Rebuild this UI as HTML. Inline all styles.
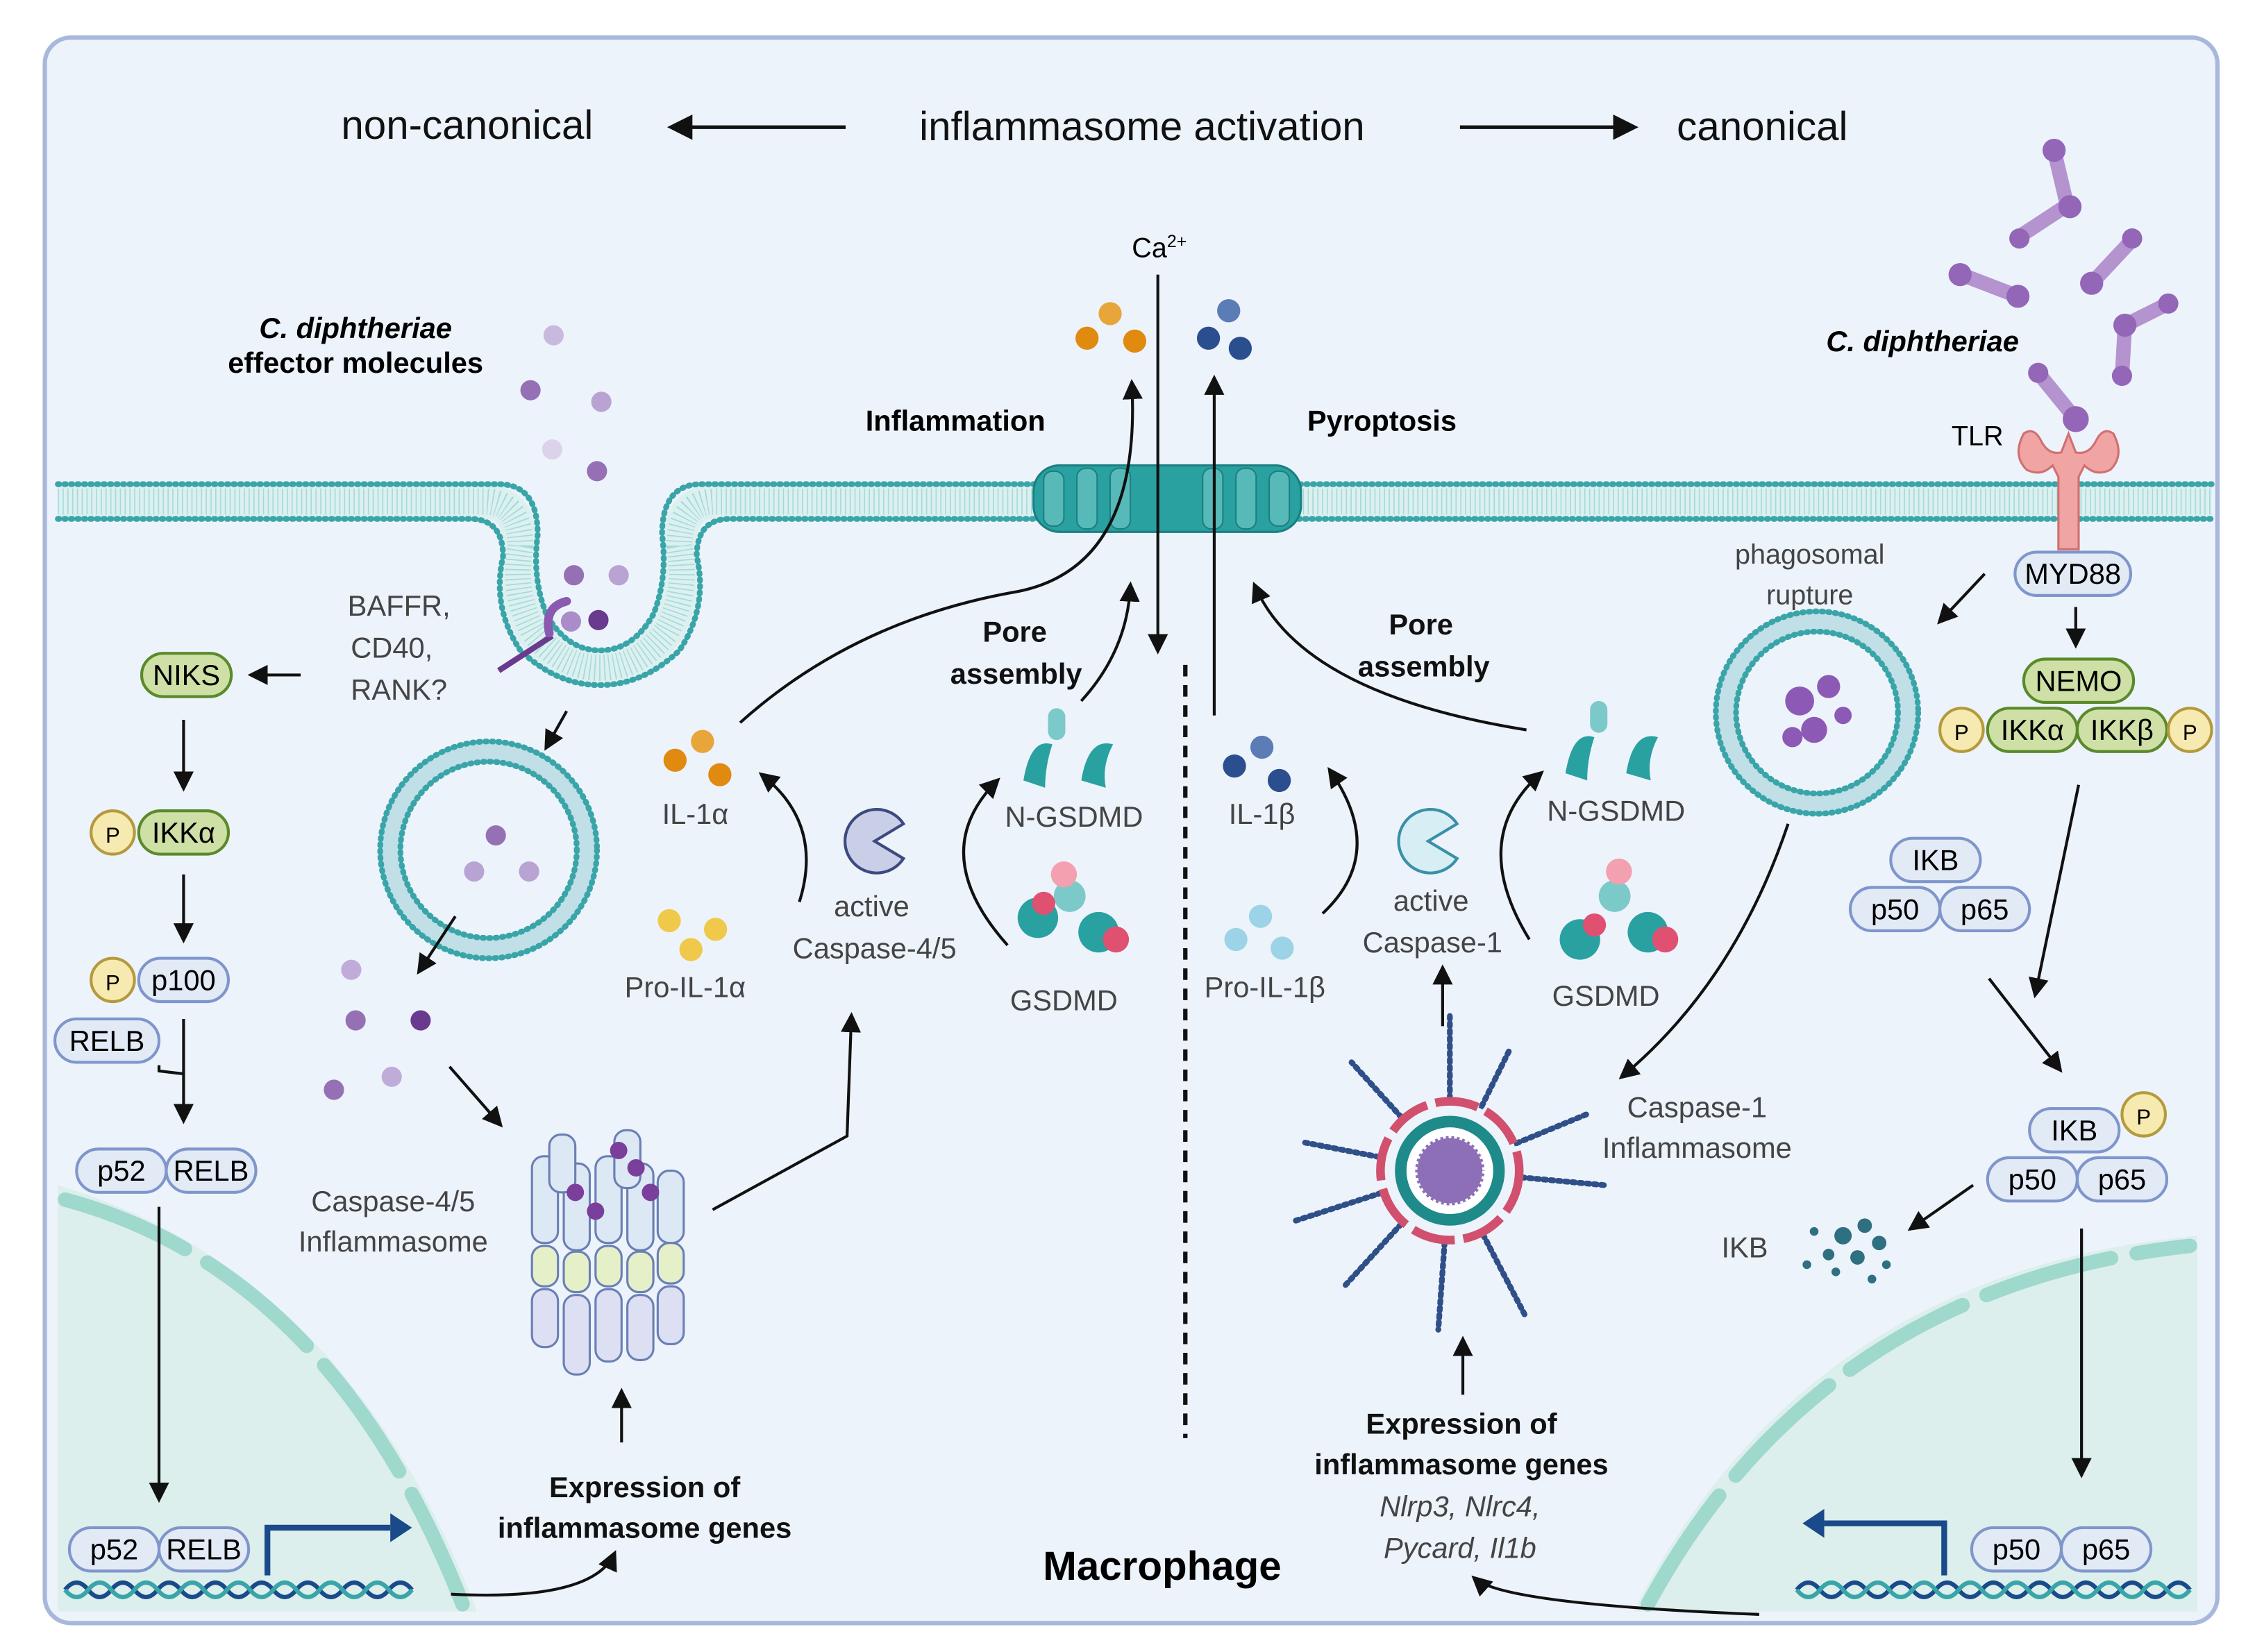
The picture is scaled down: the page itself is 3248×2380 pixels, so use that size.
<!DOCTYPE html>
<html><head><meta charset="utf-8"><style>
html,body{margin:0;padding:0;background:#fff;}
svg{display:block;}
text{font-family:"Liberation Sans",sans-serif;}
</style></head><body>
<svg width="3248" height="2380" viewBox="0 0 1560 1143" preserveAspectRatio="none" xmlns="http://www.w3.org/2000/svg">
<defs>
<marker id="ah" viewBox="0 0 10 10" refX="8" refY="5" markerWidth="7" markerHeight="7" orient="auto-start-reverse"><path d="M0,0L10,5L0,10z" fill="#111"/></marker>
</defs>
<rect x="31" y="26" width="1503" height="1097" rx="18" fill="#edf3fb" stroke="#a8b8dc" stroke-width="3"/>
<!-- nucleus regions -->
<path d="M40,820 Q240,880 330,1115 L40,1115z" fill="#dcefec"/>
<path d="M1130,1115 Q1250,880 1520,855 L1520,1115z" fill="#dcefec"/>
<path d="M45,830 Q230,880 320,1110" fill="none" stroke="#9fd8cc" stroke-width="10" stroke-dasharray="90 18" stroke-linecap="round"/>
<path d="M1140,1110 Q1260,890 1515,862" fill="none" stroke="#9fd8cc" stroke-width="10" stroke-dasharray="90 18" stroke-linecap="round"/>
<!-- membrane -->
<path d="M40,347 H335 Q360,347 360,378 Q354,410 369,437 Q388,462 415,462 Q442,462 461,437 Q476,410 470,378 Q470,347 495,347 H1530" fill="none" stroke="#dcf0f0" stroke-width="24"/>
<path d="M40,347 H335 Q360,347 360,378 Q354,410 369,437 Q388,462 415,462 Q442,462 461,437 Q476,410 470,378 Q470,347 495,347 H1530" fill="none" stroke="#a6dada" stroke-width="18" stroke-dasharray="0.8 2.5"/>
<g stroke="#3aa5a8" stroke-width="4" stroke-dasharray="1 3.5" stroke-linecap="round" fill="none">
<path d="M40,335 H345 Q372,335 372,370 Q368,400 378,425 Q392,450 415,450 Q438,450 452,425 Q462,400 458,370 Q458,335 485,335 H1530"/>
<path d="M40,359 H325 Q348,359 348,385 Q340,420 360,450 Q385,474 415,474 Q445,474 470,450 Q490,420 482,385 Q482,359 505,359 H1530"/>
</g>
<!-- pore -->
<g stroke="#1b7f82" stroke-width="1.5">
<rect x="715" y="322" width="185" height="46" rx="18" fill="#2aa1a1"/>
</g>
<g fill="#58b9b9" stroke="#1b7f82" stroke-width="1"><rect x="722" y="326" width="14" height="38" rx="6"/><rect x="745" y="324" width="14" height="42" rx="6"/><rect x="768" y="324" width="14" height="42" rx="6"/><rect x="832" y="324" width="14" height="42" rx="6"/><rect x="855" y="324" width="14" height="42" rx="6"/><rect x="878" y="326" width="14" height="38" rx="6"/></g>
<!-- header -->
<text x="236" y="96" font-size="28" fill="#111">non-canonical</text>
<text x="636" y="97" font-size="28" fill="#111">inflammasome activation</text>
<text x="1160" y="97" font-size="28" fill="#111">canonical</text>
<line x1="585" y1="88" x2="465" y2="88" stroke="#111" stroke-width="2.5" marker-end="url(#ah)"/>
<line x1="1010" y1="88" x2="1130" y2="88" stroke="#111" stroke-width="2.5" marker-end="url(#ah)"/>
<text x="246" y="234" font-size="20" font-weight="bold" font-style="italic" text-anchor="middle">C. diphtheriae</text>
<text x="246" y="258" font-size="20" font-weight="bold" text-anchor="middle">effector molecules</text>
<text x="1330" y="243" font-size="20" font-weight="bold" font-style="italic" text-anchor="middle">C. diphtheriae</text>
<text x="661" y="298" font-size="20" font-weight="bold" text-anchor="middle">Inflammation</text>
<text x="956" y="298" font-size="20" font-weight="bold" text-anchor="middle">Pyroptosis</text>
<text x="802" y="178" font-size="19" text-anchor="middle">Ca<tspan font-size="12" dy="-7">2+</tspan></text>
<!-- ca arrows -->
<line x1="801" y1="190" x2="801" y2="450" stroke="#111" stroke-width="2" marker-end="url(#ah)"/>
<line x1="840" y1="495" x2="840" y2="262" stroke="#111" stroke-width="2" marker-end="url(#ah)"/>
<path d="M512,500 Q590,430 700,410 Q790,395 783,265" fill="none" stroke="#111" stroke-width="2" marker-end="url(#ah)"/>
<line x1="820" y1="460" x2="820" y2="995" stroke="#111" stroke-width="3" stroke-dasharray="8 6"/>
<!-- cytokine balls -->
<g fill="#e08a10"><circle cx="752" cy="234" r="8"/><circle cx="785" cy="236" r="8"/><circle cx="768" cy="217" r="8" fill="#e8a53a"/>
<circle cx="467" cy="526" r="8"/><circle cx="498" cy="536" r="8"/><circle cx="486" cy="513" r="8" fill="#e8a53a"/></g>
<g fill="#f0c84a"><circle cx="463" cy="637" r="8"/><circle cx="495" cy="643" r="8"/><circle cx="478" cy="657" r="8"/></g>
<g fill="#2b4f8e"><circle cx="836" cy="234" r="8"/><circle cx="858" cy="241" r="8"/><circle cx="850" cy="215" r="8" fill="#5b7cb5"/>
<circle cx="854" cy="530" r="8"/><circle cx="885" cy="540" r="8"/><circle cx="873" cy="517" r="8" fill="#5b7cb5"/></g>
<g fill="#9cd3e6"><circle cx="855" cy="650" r="8"/><circle cx="887" cy="656" r="8"/><circle cx="872" cy="634" r="8"/></g>
<!-- effector dots -->
<g fill="#9670b5"><circle cx="383" cy="232" r="7" fill="#c9b9de"/><circle cx="367" cy="270" r="7"/><circle cx="416" cy="278" r="7" fill="#b8a3d3"/><circle cx="382" cy="311" r="7" fill="#dcd3ea"/><circle cx="413" cy="326" r="7"/>
<circle cx="397" cy="398" r="7"/><circle cx="428" cy="398" r="7" fill="#b8a3d3"/><circle cx="395" cy="430" r="7" fill="#a98cc8"/><circle cx="414" cy="429" r="7" fill="#6a3a8f"/>
<circle cx="343" cy="578" r="7"/><circle cx="328" cy="603" r="7" fill="#b8a3d3"/><circle cx="366" cy="603" r="7" fill="#b8a3d3"/>
<circle cx="243" cy="671" r="7" fill="#c0acd8"/><circle cx="246" cy="706" r="7"/><circle cx="291" cy="706" r="7" fill="#6a3a8f"/><circle cx="231" cy="754" r="7"/><circle cx="271" cy="745" r="7" fill="#c0acd8"/></g>
<line x1="345" y1="464" x2="382" y2="440" stroke="#6a3a8f" stroke-width="4"/>
<path d="M380,438 Q376,420 392,416" fill="none" stroke="#8a5ab0" stroke-width="6" stroke-linecap="round"/>
<!-- endosome -->
<circle cx="338" cy="588" r="68" fill="none" stroke="#3aa5a8" stroke-width="14" opacity="0.25"/>
<circle cx="338" cy="588" r="75" fill="none" stroke="#3aa5a8" stroke-width="4" stroke-dasharray="1 3.5" stroke-linecap="round"/>
<circle cx="338" cy="588" r="61" fill="none" stroke="#3aa5a8" stroke-width="4" stroke-dasharray="1 3.5" stroke-linecap="round"/>
<!-- phagosome -->
<circle cx="1257" cy="493" r="63" fill="none" stroke="#3aa5a8" stroke-width="14" opacity="0.25"/>
<circle cx="1257" cy="493" r="70" fill="none" stroke="#3aa5a8" stroke-width="4" stroke-dasharray="1 3.5" stroke-linecap="round"/>
<circle cx="1257" cy="493" r="56" fill="none" stroke="#3aa5a8" stroke-width="4" stroke-dasharray="1 3.5" stroke-linecap="round"/>
<g fill="#8c5ab5"><circle cx="1245" cy="485" r="10"/><circle cx="1265" cy="475" r="8"/><circle cx="1255" cy="505" r="9"/><circle cx="1275" cy="495" r="6"/><circle cx="1240" cy="510" r="7"/></g>
<!-- bacteria -->
<g stroke="#b493cf" stroke-width="10" stroke-linecap="round" fill="none">
<path d="M1421,104 L1430,142 L1398,163"/><path d="M1357,190 L1396,205"/><path d="M1475,166 L1447,196"/><path d="M1500,210 L1470,225 L1468,260"/><path d="M1410,258 L1436,290"/></g>
<g fill="#9366b8"><circle cx="1421" cy="104" r="8"/><circle cx="1432" cy="143" r="8"/><circle cx="1397" cy="165" r="7"/><circle cx="1356" cy="190" r="8"/><circle cx="1396" cy="205" r="8"/><circle cx="1475" cy="165" r="7"/><circle cx="1447" cy="196" r="8"/><circle cx="1500" cy="210" r="7"/><circle cx="1470" cy="225" r="8"/><circle cx="1468" cy="260" r="7"/><circle cx="1410" cy="258" r="7"/><circle cx="1436" cy="290" r="9"/></g>
<!-- TLR -->
<path d="M1400,300 Q1392,315 1402,325 Q1412,330 1420,322 L1424,330 V380 H1438 V330 L1442,322 Q1450,330 1460,325 Q1470,315 1462,300 Q1455,295 1450,305 Q1445,315 1436,313 L1431,300 L1426,313 Q1417,315 1412,305 Q1407,295 1400,300z" fill="#f0a4a4" stroke="#d07070" stroke-width="1.5"/>
<text x="1368" y="308" font-size="19" text-anchor="middle">TLR</text>
<text x="1252" y="390" font-size="19" fill="#444" text-anchor="middle">phagosomal</text>
<text x="1252" y="418" font-size="19" fill="#444" text-anchor="middle">rupture</text>
<!-- pills -->
<g font-size="20" text-anchor="middle">
<g fill="#e2eaf6" stroke="#7f96cc" stroke-width="2">
<rect x="1394" y="382" width="80" height="30" rx="15"/>
<rect x="1308" y="580" width="62" height="30" rx="15"/>
<rect x="1280" y="614" width="62" height="30" rx="15"/><rect x="1342" y="614" width="62" height="30" rx="15"/>
<rect x="1404" y="767" width="62" height="30" rx="15"/>
<rect x="1375" y="801" width="62" height="30" rx="15"/><rect x="1437" y="801" width="62" height="30" rx="15"/>
<rect x="1364" y="1057" width="62" height="30" rx="15"/><rect x="1426" y="1057" width="62" height="30" rx="15"/>
<rect x="38" y="705" width="72" height="30" rx="15"/>
<rect x="53" y="795" width="62" height="30" rx="15"/><rect x="115" y="795" width="62" height="30" rx="15"/>
<rect x="48" y="1057" width="62" height="30" rx="15"/><rect x="110" y="1057" width="62" height="30" rx="15"/>
<rect x="96" y="663" width="62" height="30" rx="15"/>
</g>
<g fill="#cfe0a6" stroke="#5a8a2b" stroke-width="2">
<rect x="1400" y="456" width="76" height="30" rx="15"/>
<rect x="1375" y="490" width="62" height="30" rx="15"/><rect x="1437" y="490" width="62" height="30" rx="15"/>
<rect x="98" y="452" width="62" height="30" rx="15"/>
<rect x="96" y="561" width="62" height="30" rx="15"/>
</g>
<g fill="#f7eab0" stroke="#b49a3c" stroke-width="2">
<circle cx="1357" cy="505" r="15"/><circle cx="1515" cy="505" r="15"/><circle cx="1483" cy="771" r="15"/>
<circle cx="78" cy="576" r="15"/><circle cx="78" cy="678" r="15"/>
</g>
<text x="1434" y="404">MYD88</text><text x="1438" y="478">NEMO</text>
<text x="1406" y="512">IKKα</text><text x="1468" y="512">IKKβ</text>
<text x="1357" y="512" font-size="15">P</text><text x="1515" y="512" font-size="15">P</text><text x="1483" y="778" font-size="15">P</text>
<text x="1339" y="602">IKB</text><text x="1311" y="636">p50</text><text x="1373" y="636">p65</text>
<text x="1435" y="789">IKB</text><text x="1406" y="823">p50</text><text x="1468" y="823">p65</text>
<text x="1395" y="1079">p50</text><text x="1457" y="1079">p65</text>
<text x="129" y="474">NIKS</text><text x="127" y="583">IKKα</text><text x="127" y="685">p100</text>
<text x="78" y="583" font-size="15">P</text><text x="78" y="685" font-size="15">P</text>
<text x="74" y="727">RELB</text><text x="84" y="817">p52</text><text x="146" y="817">RELB</text>
<text x="79" y="1079">p52</text><text x="141" y="1079">RELB</text>
</g>
<!-- DNA -->
<g fill="none" stroke-width="3">
<path d="M45,1100 q8,-10 16,0 t16,0 t16,0 t16,0 t16,0 t16,0 t16,0 t16,0 t16,0 t16,0 t16,0 t16,0 t16,0 t16,0 t16,0" stroke="#1a4a8a"/>
<path d="M45,1100 q8,10 16,0 t16,0 t16,0 t16,0 t16,0 t16,0 t16,0 t16,0 t16,0 t16,0 t16,0 t16,0 t16,0 t16,0 t16,0" stroke="#3aa5a8"/>
<path d="M1243,1100 q8,-10 16,0 t16,0 t16,0 t16,0 t16,0 t16,0 t16,0 t16,0 t16,0 t16,0 t16,0 t16,0 t16,0 t16,0 t16,0 t16,0 t16,0" stroke="#1a4a8a"/>
<path d="M1243,1100 q8,10 16,0 t16,0 t16,0 t16,0 t16,0 t16,0 t16,0 t16,0 t16,0 t16,0 t16,0 t16,0 t16,0 t16,0 t16,0 t16,0 t16,0" stroke="#3aa5a8"/>
<path d="M185,1090 V1057 H270" stroke="#1a4a8a" stroke-width="4"/>
<path d="M1345,1090 V1054 H1262" stroke="#1a4a8a" stroke-width="4"/>
</g>
<path d="M270,1047 L285,1057 L270,1067z" fill="#1a4a8a"/><path d="M1262,1044 L1247,1054 L1262,1064z" fill="#1a4a8a"/>
<!-- arrows -->
<g stroke="#111" stroke-width="2" fill="none" marker-end="url(#ah)">
<line x1="208" y1="467" x2="174" y2="467"/>
<line x1="127" y1="498" x2="127" y2="545"/>
<line x1="127" y1="605" x2="127" y2="650"/>
<line x1="127" y1="705" x2="127" y2="775"/>
<line x1="110" y1="835" x2="110" y2="1037"/>
<line x1="392" y1="492" x2="378" y2="517"/>
<line x1="315" y1="634" x2="290" y2="672"/>
<line x1="311" y1="738" x2="346" y2="778"/>
<line x1="430" y1="998" x2="430" y2="963"/>
<path d="M312,1103 Q410,1108 425,1075"/>
<path d="M493,837 L586,786 L589,703"/>
<path d="M553,624 Q570,570 527,536"/>
<path d="M697,654 Q640,590 690,540"/>
<path d="M748,485 Q780,450 782,405"/>
<path d="M915,632 Q960,590 920,533"/>
<path d="M1058,650 Q1015,580 1066,535"/>
<path d="M1056,505 Q900,480 868,405"/>
<line x1="998" y1="710" x2="998" y2="670"/>
<line x1="1012" y1="965" x2="1012" y2="927"/>
<path d="M1217,1117 Q1040,1110 1020,1092"/>
<path d="M1237,570 Q1200,680 1122,745"/>
<line x1="1373" y1="397" x2="1342" y2="430"/>
<line x1="1436" y1="420" x2="1436" y2="446"/>
<line x1="1438" y1="543" x2="1408" y2="688"/>
<line x1="1376" y1="677" x2="1425" y2="740"/>
<line x1="1365" y1="820" x2="1322" y2="850"/>
<line x1="1440" y1="850" x2="1440" y2="1020"/>
</g>
<path d="M110,737 L110,741 L127,743" stroke="#111" stroke-width="2" fill="none"/>
<!-- labels -->
<g font-size="20" fill="#444" text-anchor="middle">
<text x="276" y="426">BAFFR,</text><text x="271" y="455">CD40,</text><text x="276" y="484">RANK?</text>
<text x="481" y="570">IL-1α</text><text x="474" y="690">Pro-IL-1α</text>
<text x="603" y="634">active</text><text x="605" y="663">Caspase-4/5</text>
<text x="743" y="572">N-GSDMD</text><text x="736" y="699">GSDMD</text>
<text x="873" y="570">IL-1β</text><text x="875" y="690">Pro-IL-1β</text>
<text x="990" y="630">active</text><text x="991" y="659">Caspase-1</text>
<text x="1118" y="568">N-GSDMD</text><text x="1111" y="696">GSDMD</text>
<text x="1174" y="773">Caspase-1</text><text x="1174" y="801">Inflammasome</text>
<text x="272" y="838">Caspase-4/5</text><text x="272" y="866">Inflammasome</text>
<text x="1207" y="870">IKB</text>
<text x="1010" y="1049" font-style="italic">Nlrp3, Nlrc4,</text>
<text x="1010" y="1078" font-style="italic">Pycard, Il1b</text>
</g>
<g font-size="20" font-weight="bold" fill="#111" text-anchor="middle">
<text x="702" y="444">Pore</text><text x="703" y="473">assembly</text>
<text x="983" y="439">Pore</text><text x="985" y="468">assembly</text>
<text x="446" y="1036">Expression of</text><text x="446" y="1064">inflammasome genes</text>
<text x="1011" y="992">Expression of</text><text x="1011" y="1020">inflammasome genes</text>
</g>
<text x="804" y="1093" font-size="28" font-weight="bold" text-anchor="middle">Macrophage</text>
<!-- caspase pac-men -->
<path d="M625,570 A22,22 0 1 0 625,594 L605,582z" fill="#c9cfe6" stroke="#3c4a80" stroke-width="2"/>
<path d="M1008,570 A22,22 0 1 0 1008,594 L988,582z" fill="#d6eef4" stroke="#3a90a8" stroke-width="2"/>
<!-- GSDMD shapes -->
<g fill="#2aa1a1"><path d="M708,540 q5,-30 20,-25 q-5,15 -5,30z"/><path d="M748,540 q5,-30 22,-25 q-8,15 -5,30z"/><rect x="725" y="490" width="12" height="22" rx="6" fill="#7cc9c9"/>
<path d="M1083,535 q5,-30 20,-25 q-5,15 -5,30z"/><path d="M1125,535 q5,-30 22,-25 q-8,15 -5,30z"/><rect x="1100" y="485" width="12" height="22" rx="6" fill="#7cc9c9"/>
<circle cx="718" cy="635" r="14"/><circle cx="760" cy="645" r="14"/><circle cx="740" cy="620" r="11" fill="#7cc9c9"/><circle cx="722" cy="625" r="8" fill="#e05070"/><circle cx="772" cy="650" r="9" fill="#e05070"/><circle cx="736" cy="605" r="9" fill="#f3a0b0"/>
<circle cx="1093" cy="650" r="14"/><circle cx="1140" cy="645" r="14"/><circle cx="1117" cy="620" r="11" fill="#7cc9c9"/><circle cx="1103" cy="640" r="8" fill="#e05070"/><circle cx="1152" cy="650" r="9" fill="#e05070"/><circle cx="1120" cy="603" r="9" fill="#f3a0b0"/></g>
<!-- caspase-1 inflammasome -->
<g stroke="#2f4f88" stroke-width="4" stroke-dasharray="2 3" stroke-linecap="round">
<line x1="1003" y1="800" x2="1003" y2="700"/><line x1="1003" y1="810" x2="1100" y2="770"/><line x1="1003" y1="810" x2="1110" y2="820"/><line x1="1003" y1="810" x2="1055" y2="910"/><line x1="1003" y1="810" x2="995" y2="920"/><line x1="1003" y1="810" x2="930" y2="890"/><line x1="1003" y1="810" x2="895" y2="845"/><line x1="1003" y1="810" x2="900" y2="790"/><line x1="1003" y1="810" x2="935" y2="735"/><line x1="1003" y1="810" x2="1045" y2="725"/>
</g>
<circle cx="1003" cy="810" r="48" fill="#edf3fb" stroke="#d0506e" stroke-width="6" stroke-dasharray="30 6"/>
<circle cx="1003" cy="810" r="38" fill="#1e8a8a"/>
<circle cx="1003" cy="810" r="30" fill="#ffffff"/>
<circle cx="1003" cy="810" r="24" fill="#8d6fb8" stroke="#ffffff" stroke-width="3" stroke-dasharray="2 2"/>
<!-- caspase-4/5 inflammasome -->
<g stroke="#6a7fb5" stroke-width="1.5">
<g fill="#dde8f5"><rect x="368" y="800" width="18" height="60" rx="8"/><rect x="390" y="805" width="18" height="60" rx="8"/><rect x="412" y="800" width="18" height="60" rx="8"/><rect x="434" y="805" width="18" height="60" rx="8"/><rect x="455" y="810" width="18" height="50" rx="8"/><rect x="380" y="785" width="18" height="40" rx="8"/><rect x="425" y="782" width="18" height="40" rx="8"/></g>
<g fill="#e6f0c8"><rect x="368" y="862" width="18" height="28" rx="8"/><rect x="390" y="866" width="18" height="28" rx="8"/><rect x="412" y="862" width="18" height="28" rx="8"/><rect x="434" y="866" width="18" height="28" rx="8"/><rect x="455" y="860" width="18" height="28" rx="8"/></g>
<g fill="#dde0f2"><rect x="368" y="892" width="18" height="40" rx="8"/><rect x="390" y="896" width="18" height="55" rx="8"/><rect x="412" y="892" width="18" height="50" rx="8"/><rect x="434" y="896" width="18" height="45" rx="8"/><rect x="455" y="890" width="18" height="40" rx="8"/></g>
</g>
<g fill="#7a3f9a"><circle cx="428" cy="796" r="6"/><circle cx="398" cy="825" r="6"/><circle cx="412" cy="838" r="6"/><circle cx="450" cy="825" r="6"/><circle cx="440" cy="808" r="6"/></g>
<!-- IKB degraded -->
<g fill="#2e6f80"><circle cx="1275" cy="855" r="6"/><circle cx="1290" cy="848" r="5"/><circle cx="1300" cy="860" r="5"/><circle cx="1265" cy="868" r="4"/><circle cx="1285" cy="870" r="5"/><circle cx="1255" cy="852" r="3"/><circle cx="1305" cy="875" r="3"/><circle cx="1270" cy="880" r="3"/><circle cx="1250" cy="875" r="3"/><circle cx="1295" cy="885" r="3"/></g>
</svg>
</body></html>
